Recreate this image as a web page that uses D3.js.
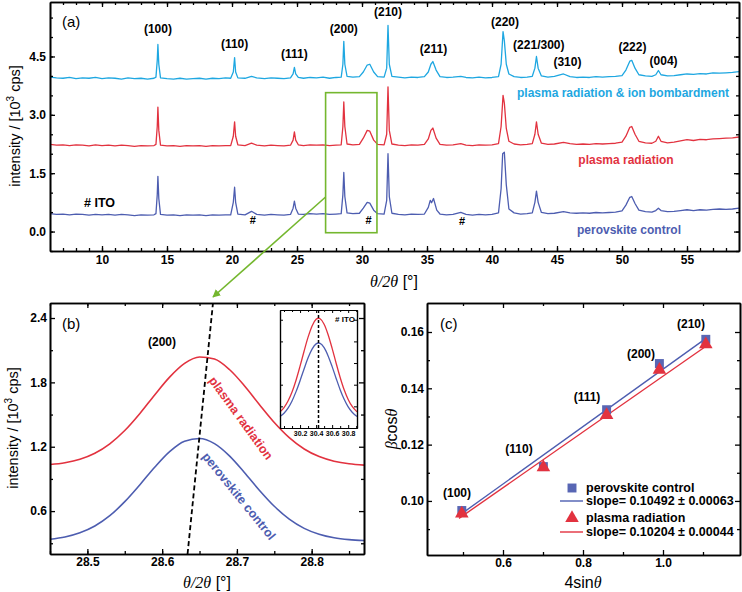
<!DOCTYPE html>
<html>
<head>
<meta charset="utf-8">
<script src="https://cdn.jsdelivr.net/npm/d3@7"></script>
<style>
  body { margin: 0; background: #fff; }
  text { font-family: "Liberation Sans", Arial, sans-serif; }
</style>
</head>
<body>
<div id="chart"></div>
<script>
// ---- data, panel (a): XRD scans, [2theta, intensity 10^3 cps] ----
const xrdIon = [[6.0,3.97],[6.5,3.95],[7.0,3.94],[7.5,3.96],[8.0,3.93],[8.5,3.95],[9.0,3.94],[9.5,3.96],[10.0,3.93],[10.5,3.95],[11.0,3.94],[11.5,3.92],[12.0,3.95],[12.5,3.93],[13.0,3.94],[13.5,3.92],[14.0,3.94],[14.15,3.97],[14.25,4.4],[14.3,4.81],[14.37,4.3],[14.5,3.95],[15.0,3.93],[15.5,3.92],[16.0,3.94],[16.5,3.92],[17.0,3.93],[17.5,3.94],[18.0,3.92],[18.5,3.94],[19.0,3.93],[19.5,3.95],[19.9,3.94],[20.1,4.1],[20.2,4.47],[20.28,4.1],[20.45,3.95],[21.0,3.94],[21.5,3.99],[21.9,3.95],[22.5,3.93],[23.0,3.95],[23.5,3.94],[24.0,3.93],[24.5,3.95],[24.7,4.05],[24.8,4.22],[24.9,4.05],[25.1,3.96],[25.5,3.94],[26.0,3.96],[26.5,3.95],[27.0,3.97],[27.5,3.94],[28.0,3.96],[28.4,3.97],[28.53,4.3],[28.6,4.89],[28.68,4.3],[28.85,3.99],[29.3,3.97],[29.8,3.98],[30.1,4.1],[30.4,4.28],[30.6,4.3],[30.9,4.1],[31.2,3.98],[31.7,3.97],[31.9,4.2],[32.0,5.3],[32.1,4.3],[32.3,3.99],[32.8,3.97],[33.3,3.95],[33.8,3.97],[34.3,3.96],[34.8,3.98],[35.1,4.1],[35.3,4.3],[35.45,4.37],[35.7,4.15],[36.0,3.98],[36.5,3.96],[37.0,3.97],[37.6,3.99],[38.0,3.96],[38.5,3.95],[39.0,3.97],[39.5,3.95],[40.0,3.96],[40.5,3.98],[40.7,4.3],[40.85,5.14],[40.95,4.9],[41.1,4.3],[41.3,4.05],[41.7,3.98],[42.2,3.96],[42.7,3.97],[43.1,3.99],[43.3,4.2],[43.42,4.5],[43.55,4.2],[43.8,4.0],[44.3,3.97],[44.8,3.99],[45.5,4.05],[46.0,3.98],[46.5,3.96],[47.0,3.97],[47.5,3.96],[48.0,3.98],[48.5,3.97],[49.0,3.98],[49.5,3.99],[50.0,4.01],[50.3,4.15],[50.6,4.38],[50.75,4.4],[51.0,4.2],[51.3,4.03],[51.8,4.0],[52.3,3.99],[52.6,4.03],[52.8,4.14],[53.0,4.03],[53.5,4.0],[54.0,4.01],[54.5,4.03],[55.0,4.05],[55.5,4.04],[56.0,4.06],[56.5,4.05],[57.0,4.08],[57.5,4.07],[58.0,4.08],[58.5,4.09],[59.0,4.11]];
const xrdPlasma = [[6.0,2.24],[6.5,2.22],[7.0,2.23],[7.5,2.21],[8.0,2.23],[8.5,2.22],[9.0,2.20],[9.5,2.23],[10.0,2.21],[10.5,2.22],[11.0,2.20],[11.5,2.22],[12.0,2.21],[12.5,2.19],[13.0,2.21],[13.5,2.20],[14.0,2.21],[14.15,2.24],[14.25,2.7],[14.3,3.2],[14.37,2.6],[14.5,2.22],[15.0,2.20],[15.5,2.21],[16.0,2.19],[16.5,2.21],[17.0,2.20],[17.5,2.21],[18.0,2.19],[18.5,2.21],[19.0,2.20],[19.5,2.21],[19.9,2.21],[20.1,2.45],[20.2,2.82],[20.28,2.45],[20.45,2.23],[21.0,2.21],[21.5,2.27],[21.9,2.22],[22.5,2.20],[23.0,2.22],[23.5,2.21],[24.0,2.20],[24.5,2.22],[24.7,2.35],[24.8,2.56],[24.9,2.35],[25.1,2.23],[25.5,2.21],[26.0,2.23],[26.5,2.22],[27.0,2.23],[27.5,2.21],[28.0,2.22],[28.4,2.23],[28.53,2.7],[28.6,3.33],[28.68,2.7],[28.85,2.25],[29.3,2.23],[29.8,2.24],[30.1,2.4],[30.4,2.6],[30.6,2.58],[30.9,2.35],[31.2,2.24],[31.7,2.23],[31.9,2.5],[32.0,3.72],[32.1,2.6],[32.3,2.25],[32.8,2.22],[33.3,2.21],[33.8,2.23],[34.3,2.22],[34.8,2.24],[35.1,2.38],[35.3,2.6],[35.45,2.66],[35.7,2.4],[36.0,2.24],[36.5,2.22],[37.0,2.23],[37.6,2.26],[38.0,2.22],[38.5,2.21],[39.0,2.23],[39.5,2.22],[40.0,2.23],[40.5,2.26],[40.7,2.7],[40.85,3.5],[40.95,3.3],[41.1,2.65],[41.3,2.32],[41.7,2.25],[42.2,2.23],[42.7,2.24],[43.1,2.26],[43.3,2.5],[43.42,2.82],[43.55,2.5],[43.8,2.27],[44.3,2.24],[44.8,2.25],[45.5,2.29],[46.0,2.26],[46.5,2.24],[47.0,2.25],[47.5,2.24],[48.0,2.26],[48.5,2.25],[49.0,2.26],[49.5,2.27],[50.0,2.30],[50.3,2.45],[50.6,2.68],[50.75,2.70],[51.0,2.50],[51.3,2.32],[51.8,2.28],[52.3,2.27],[52.6,2.32],[52.8,2.45],[53.0,2.32],[53.5,2.28],[54.0,2.30],[54.5,2.33],[55.0,2.36],[55.5,2.34],[56.0,2.37],[56.5,2.36],[57.0,2.38],[57.5,2.39],[58.0,2.40],[58.5,2.41],[59.0,2.43]];
const xrdControl = [[6.0,0.46],[6.5,0.44],[7.0,0.45],[7.5,0.43],[8.0,0.45],[8.5,0.44],[9.0,0.42],[9.5,0.44],[10.0,0.43],[10.5,0.44],[11.0,0.42],[11.5,0.44],[12.0,0.43],[12.5,0.41],[13.0,0.43],[13.5,0.42],[14.0,0.43],[14.15,0.46],[14.25,0.95],[14.3,1.42],[14.37,0.85],[14.5,0.44],[15.0,0.42],[15.5,0.43],[16.0,0.41],[16.5,0.43],[17.0,0.42],[17.5,0.43],[18.0,0.41],[18.5,0.43],[19.0,0.42],[19.5,0.43],[19.9,0.43],[20.1,0.75],[20.2,1.14],[20.28,0.75],[20.45,0.45],[21.0,0.43],[21.5,0.52],[21.9,0.44],[22.5,0.42],[23.0,0.44],[23.5,0.43],[24.0,0.42],[24.5,0.44],[24.7,0.6],[24.8,0.78],[24.9,0.6],[25.1,0.45],[25.5,0.44],[26.0,0.46],[26.5,0.45],[27.0,0.46],[27.5,0.44],[28.0,0.45],[28.4,0.46],[28.53,0.95],[28.6,1.52],[28.68,0.9],[28.85,0.48],[29.3,0.46],[29.8,0.47],[30.1,0.6],[30.4,0.75],[30.6,0.73],[30.9,0.55],[31.2,0.46],[31.7,0.45],[31.9,0.8],[32.0,2.0],[32.1,0.9],[32.3,0.47],[32.8,0.44],[33.3,0.43],[33.8,0.45],[34.3,0.44],[34.8,0.45],[35.1,0.62],[35.25,0.8],[35.35,0.74],[35.5,0.85],[35.75,0.55],[36.0,0.45],[36.5,0.43],[37.0,0.44],[37.6,0.49],[38.0,0.44],[38.5,0.42],[39.0,0.44],[39.5,0.43],[40.0,0.44],[40.5,0.48],[40.7,1.1],[40.82,2.0],[40.95,2.04],[41.1,1.2],[41.3,0.58],[41.7,0.48],[42.2,0.45],[42.7,0.46],[43.1,0.48],[43.3,0.75],[43.42,1.04],[43.55,0.75],[43.8,0.49],[44.3,0.46],[44.8,0.47],[45.5,0.51],[46.0,0.48],[46.5,0.47],[47.0,0.48],[47.5,0.47],[48.0,0.49],[48.5,0.48],[49.0,0.49],[49.5,0.50],[50.0,0.53],[50.3,0.68],[50.6,0.88],[50.75,0.90],[51.0,0.72],[51.3,0.55],[51.8,0.51],[52.3,0.50],[52.6,0.54],[52.8,0.60],[53.0,0.54],[53.5,0.51],[54.0,0.52],[54.5,0.54],[55.0,0.56],[55.5,0.54],[56.0,0.56],[56.5,0.55],[57.0,0.57],[57.5,0.58],[58.0,0.57],[58.5,0.58],[59.0,0.60]];

// hkl labels, [2theta, intensity position, text]
const hklLabels = [[14.3,5.1,"(100)"],[20.2,4.72,"(110)"],[24.8,4.46,"(111)"],[28.6,5.1,"(200)"],[32.0,5.53,"(210)"],[35.5,4.6,"(211)"],[41.0,5.28,"(220)"],[43.6,4.68,"(221/300)"],[45.8,4.25,"(310)"],[50.8,4.63,"(222)"],[53.2,4.28,"(004)"]];
const itoMarks = [[21.6,0.2],[30.5,0.2],[37.7,0.16]];

// ---- data, panel (b): (200) peak ----
const peakX = [28.45,28.47,28.49,28.51,28.53,28.55,28.57,28.59,28.61,28.63,28.65,28.67,28.69,28.71,28.73,28.75,28.77,28.79,28.81,28.83,28.85,28.87];
const peakPlasma = [1.034,1.051,1.083,1.139,1.227,1.351,1.508,1.683,1.849,1.977,2.037,2.017,1.920,1.769,1.594,1.426,1.285,1.179,1.108,1.065,1.041,1.029];
const peakControl = [0.338,0.359,0.398,0.461,0.557,0.688,0.844,1.009,1.155,1.252,1.277,1.229,1.115,0.960,0.795,0.645,0.525,0.439,0.384,0.351,0.334,0.326];
const peakShift = [[28.634,0.2],[28.668,2.54]];

// inset: ITO peak (arb. units)
const itoX = [29.95,30.0,30.05,30.1,30.15,30.2,30.25,30.3,30.35,30.4,30.43,30.45,30.5,30.55,30.6,30.65,30.7,30.75,30.8,30.85,30.91];
const itoPlasma = [0.149,0.189,0.249,0.332,0.441,0.571,0.709,0.839,0.943,1.004,1.014,1.009,0.959,0.862,0.736,0.598,0.467,0.353,0.264,0.199,0.149];
const itoControl = [0.106,0.136,0.183,0.250,0.336,0.437,0.545,0.649,0.729,0.777,0.785,0.782,0.742,0.666,0.567,0.458,0.354,0.265,0.195,0.145,0.106];

// ---- data, panel (c): Williamson-Hall ----
const whX = [0.497,0.701,0.859,0.991,1.107];
const whHkl = ["(100)","(110)","(111)","(200)","(210)"];
const whControl = [0.0966,0.1122,0.1324,0.1488,0.1574];
const whPlasma = [0.0955,0.1119,0.1305,0.1466,0.1556];
const fitControl = [[0.49,0.0948],[1.11,0.1580]];
const fitPlasma = [[0.49,0.0938],[1.11,0.1552]];
const legendItems = ["perovskite control","slope= 0.10492 ± 0.00063","plasma radiation","slope= 0.10204 ± 0.00044"];

const cCyan = "#1ea7e1", cRed = "#e2323f", cBlue = "#4d5db0", cGreen = "#74b72e";

const svg = d3.select("#chart").append("svg")
  .attr("width", 742).attr("height", 592);

svg.append("defs").append("marker")
  .attr("id", "arrow").attr("viewBox", "0 0 10 10")
  .attr("refX", 9).attr("refY", 5)
  .attr("markerWidth", 5).attr("markerHeight", 5)
  .attr("orient", "auto")
  .append("path").attr("d", "M0,0L10,5L0,10z").attr("fill", cGreen);

// framed axes with inward ticks on all four sides
function frame(x, y, o) {
  const [xl, xr] = x.range(), [yb, yt] = y.range();
  const g = svg.append("g");
  const sides = [
    [d3.axisBottom, `translate(0,${yb})`, x, o.xMaj, o.xMin, o.xFmt],
    [d3.axisTop, `translate(0,${yt})`, x, o.xMaj, o.xMin, null],
    [d3.axisLeft, `translate(${xl},0)`, y, o.yMaj, o.yMin, o.yFmt],
    [d3.axisRight, `translate(${xr},0)`, y, o.yMaj, o.yMin, null]
  ];
  sides.forEach(([ax, tr, sc, maj, min, fmt]) => {
    g.append("g").attr("transform", tr)
      .call(ax(sc).tickValues(min).tickSize(-(o.minor || 3)).tickSizeOuter(0).tickFormat(""));
    g.append("g").attr("transform", tr)
      .call(ax(sc).tickValues(maj).tickSize(-(o.major || 5)).tickSizeOuter(0)
        .tickPadding(o.pad || 5).tickFormat(fmt ? fmt : () => ""));
  });
  g.selectAll(".domain").attr("stroke", "#000").attr("stroke-width", o.sw || 1.6);
  g.selectAll(".tick line").attr("stroke", "#000").attr("stroke-width", o.tw || 1.3);
  g.selectAll(".tick text").attr("fill", "#000")
    .style("font-weight", "bold").style("font-size", (o.fs || 12) + "px");
  return g;
}

function label(x, y, txt, o = {}) {
  return svg.append("text")
    .attr("x", x).attr("y", y)
    .attr("text-anchor", o.anchor || "middle")
    .attr("fill", o.color || "#000")
    .style("font-size", (o.size || 12) + "px")
    .style("font-weight", o.weight || "bold")
    .text(txt);
}

function thetaTitle(cx, cy) {
  const t = svg.append("text").attr("x", cx).attr("y", cy)
    .attr("text-anchor", "middle").style("font-size", "16px");
  t.append("tspan").style("font-family", "Liberation Serif, serif").style("font-style", "italic").text("θ/2θ");
  t.append("tspan").text(" [°]");
}

function intensityTitle(cx, cy) {
  const t = svg.append("text")
    .attr("transform", `translate(${cx},${cy}) rotate(-90)`)
    .attr("text-anchor", "middle").style("font-size", "14.5px");
  t.append("tspan").text("intensity / [10");
  t.append("tspan").attr("dy", -6).style("font-size", "10px").text("3");
  t.append("tspan").attr("dy", 6).text(" cps]");
}

// ================= panel (a) =================
const xa = d3.scaleLinear().domain([6, 59]).range([50, 739]);
const ya = d3.scaleLinear().domain([-0.5, 5.9]).range([251, 2]);

const lineA = d3.line().x(d => xa(d[0])).y(d => ya(d[1]));
[[xrdControl, cBlue], [xrdPlasma, cRed], [xrdIon, cCyan]].forEach(([data, col]) => {
  svg.append("path").datum(data)
    .attr("fill", "none").attr("stroke", col).attr("stroke-width", 1.3)
    .attr("stroke-linejoin", "round").attr("d", lineA);
});

frame(xa, ya, {
  xMaj: d3.range(10, 56, 5), xMin: d3.range(7, 59, 1),
  yMaj: [0, 1.5, 3, 4.5], yMin: d3.range(-0.5, 5.9, 0.5),
  xFmt: d3.format("d"), yFmt: d3.format(".1f"), pad: 4
});

hklLabels.forEach(d => label(xa(d[0]), ya(d[1]), d[2]));
itoMarks.forEach(d => label(xa(d[0]), ya(d[1]), "#", { size: 11 }));
label(84, 207, "# ITO", { anchor: "start", size: 12.5 });
label(62, 27, "(a)", { anchor: "start", size: 15, weight: "normal" });
label(623, 97, "plasma radiation & ion bombardment", { color: cCyan, size: 12 });
label(626, 164, "plasma radiation", { color: cRed, size: 12 });
label(629, 234, "perovskite control", { color: cBlue, size: 12 });

// zoom box and arrow to panel (b)
svg.append("rect")
  .attr("x", xa(27.2)).attr("y", ya(3.57))
  .attr("width", xa(31.15) - xa(27.2)).attr("height", ya(-0.03) - ya(3.57))
  .attr("fill", "none").attr("stroke", cGreen).attr("stroke-width", 1.6);
svg.append("line")
  .attr("x1", xa(27.2)).attr("y1", 197).attr("x2", 213).attr("y2", 297)
  .attr("stroke", cGreen).attr("stroke-width", 1.6).attr("marker-end", "url(#arrow)");

thetaTitle(394, 287);
intensityTitle(20, 126);

// ================= panel (b) =================
const xb = d3.scaleLinear().domain([28.45, 28.87]).range([50, 364]);
const yb = d3.scaleLinear().domain([0.2, 2.54]).range([554, 303]);

const lineB = d3.line().x((d, i) => xb(peakX[i])).y(d => yb(d)).curve(d3.curveMonotoneX);
[[peakPlasma, cRed], [peakControl, cBlue]].forEach(([data, col]) => {
  svg.append("path").datum(data)
    .attr("fill", "none").attr("stroke", col).attr("stroke-width", 1.6).attr("d", lineB);
});
svg.append("line")
  .attr("x1", xb(peakShift[0][0])).attr("y1", yb(peakShift[0][1]))
  .attr("x2", xb(peakShift[1][0])).attr("y2", yb(peakShift[1][1]))
  .attr("stroke", "#000").attr("stroke-width", 1.8).attr("stroke-dasharray", "5,3");

frame(xb, yb, {
  xMaj: [28.5, 28.6, 28.7, 28.8], xMin: d3.range(28.45, 28.87, 0.05),
  yMaj: [0.6, 1.2, 1.8, 2.4], yMin: [0.3, 0.9, 1.5, 2.1],
  xFmt: d3.format(".1f"), yFmt: d3.format(".1f"), pad: 3
});

label(62, 329, "(b)", { anchor: "start", size: 15, weight: "normal" });
label(162, 346, "(200)");
label(0, 0, "plasma radiation", { color: cRed, size: 12.5 })
  .attr("transform", "translate(241,418) rotate(54)").attr("dy", "0.35em");
label(0, 0, "perovskite control", { color: cBlue, size: 12.5 })
  .attr("transform", "translate(239,496) rotate(51)").attr("dy", "0.35em");

thetaTitle(207, 588);
intensityTitle(18, 428);

// inset
const xi = d3.scaleLinear().domain([29.95, 30.91]).range([280, 357]);
const yi = d3.scaleLinear().domain([0, 1.09]).range([428, 310]);
svg.append("rect").attr("x", 280).attr("y", 310).attr("width", 77).attr("height", 118).attr("fill", "#fff");
const lineI = d3.line().x((d, i) => xi(itoX[i])).y(d => yi(d)).curve(d3.curveMonotoneX);
[[itoPlasma, cRed], [itoControl, cBlue]].forEach(([data, col]) => {
  svg.append("path").datum(data)
    .attr("fill", "none").attr("stroke", col).attr("stroke-width", 1.3).attr("d", lineI);
});
svg.append("line")
  .attr("x1", xi(30.43)).attr("x2", xi(30.43)).attr("y1", 428).attr("y2", 310)
  .attr("stroke", "#000").attr("stroke-width", 1.5).attr("stroke-dasharray", "3,2");
frame(xi, yi, {
  xMaj: [30.2, 30.4, 30.6, 30.8], xMin: [30.0, 30.1, 30.3, 30.5, 30.7, 30.9],
  yMaj: [0, 0.2, 0.4, 0.6, 0.8, 1.0], yMin: [],
  xFmt: d3.format(".1f"), yFmt: null,
  fs: 7, major: 3, minor: 2, pad: 3, sw: 1.2, tw: 1
});
label(335, 322, "# ITO", { anchor: "start", size: 8 });

// ================= panel (c) =================
const xc = d3.scaleLinear().domain([0.41, 1.1925]).range([427, 740]);
const yc = d3.scaleLinear().domain([0.0808, 0.1703]).range([555, 303]);

const lineC = d3.line().x(d => xc(d[0])).y(d => yc(d[1]));
[[fitControl, cBlue], [fitPlasma, cRed]].forEach(([data, col]) => {
  svg.append("path").datum(data)
    .attr("fill", "none").attr("stroke", col).attr("stroke-width", 1.4).attr("d", lineC);
});

const sq = d3.symbol().type(d3.symbolSquare).size(80);
const tri = d3.symbol().type(d3.symbolTriangle).size(80);
svg.selectAll(".sq").data(whControl).join("path")
  .attr("class", "sq").attr("d", sq).attr("fill", "#5866b4")
  .attr("transform", (d, i) => `translate(${xc(whX[i])},${yc(d)})`);
svg.selectAll(".tri").data(whPlasma).join("path")
  .attr("class", "tri").attr("d", tri).attr("fill", cRed)
  .attr("transform", (d, i) => `translate(${xc(whX[i])},${yc(d)})`);

frame(xc, yc, {
  xMaj: [0.6, 0.8, 1.0], xMin: [0.5, 0.7, 0.9, 1.1],
  yMaj: [0.10, 0.12, 0.14, 0.16], yMin: [0.09, 0.11, 0.13, 0.15],
  xFmt: d3.format(".1f"), yFmt: d3.format(".2f"), pad: 3
});

const hklPos = [[457, 497], [519, 453], [587, 401], [641, 358], [691, 328]];
whHkl.forEach((t, i) => label(hklPos[i][0], hklPos[i][1], t));
label(440, 329, "(c)", { anchor: "start", size: 15, weight: "normal" });

// legend
svg.append("path").attr("d", sq).attr("fill", "#5866b4").attr("transform", "translate(572,488)");
svg.append("line").attr("x1", 560).attr("x2", 583).attr("y1", 501).attr("y2", 501)
  .attr("stroke", cBlue).attr("stroke-width", 1.4);
svg.append("path").attr("d", tri).attr("fill", cRed).attr("transform", "translate(572,518)");
svg.append("line").attr("x1", 560).attr("x2", 583).attr("y1", 532).attr("y2", 532)
  .attr("stroke", cRed).attr("stroke-width", 1.4);
[488, 501, 518, 532].forEach((yy, i) =>
  label(586, yy, legendItems[i], { anchor: "start", size: 12.5 }).attr("dy", "0.35em"));

// axis titles for (c)
const tc = svg.append("text").attr("x", 583).attr("y", 588)
  .attr("text-anchor", "middle").style("font-size", "16px");
tc.append("tspan").text("4sin");
tc.append("tspan").style("font-family", "Liberation Serif, serif").style("font-style", "italic").text("θ");

const tcy = svg.append("text").attr("transform", "translate(397,429) rotate(-90)")
  .attr("text-anchor", "middle").style("font-size", "16px");
tcy.append("tspan").style("font-family", "Liberation Serif, serif").style("font-style", "italic").text("β");
tcy.append("tspan").text("cos");
tcy.append("tspan").style("font-family", "Liberation Serif, serif").style("font-style", "italic").text("θ");
</script>
</body>
</html>
